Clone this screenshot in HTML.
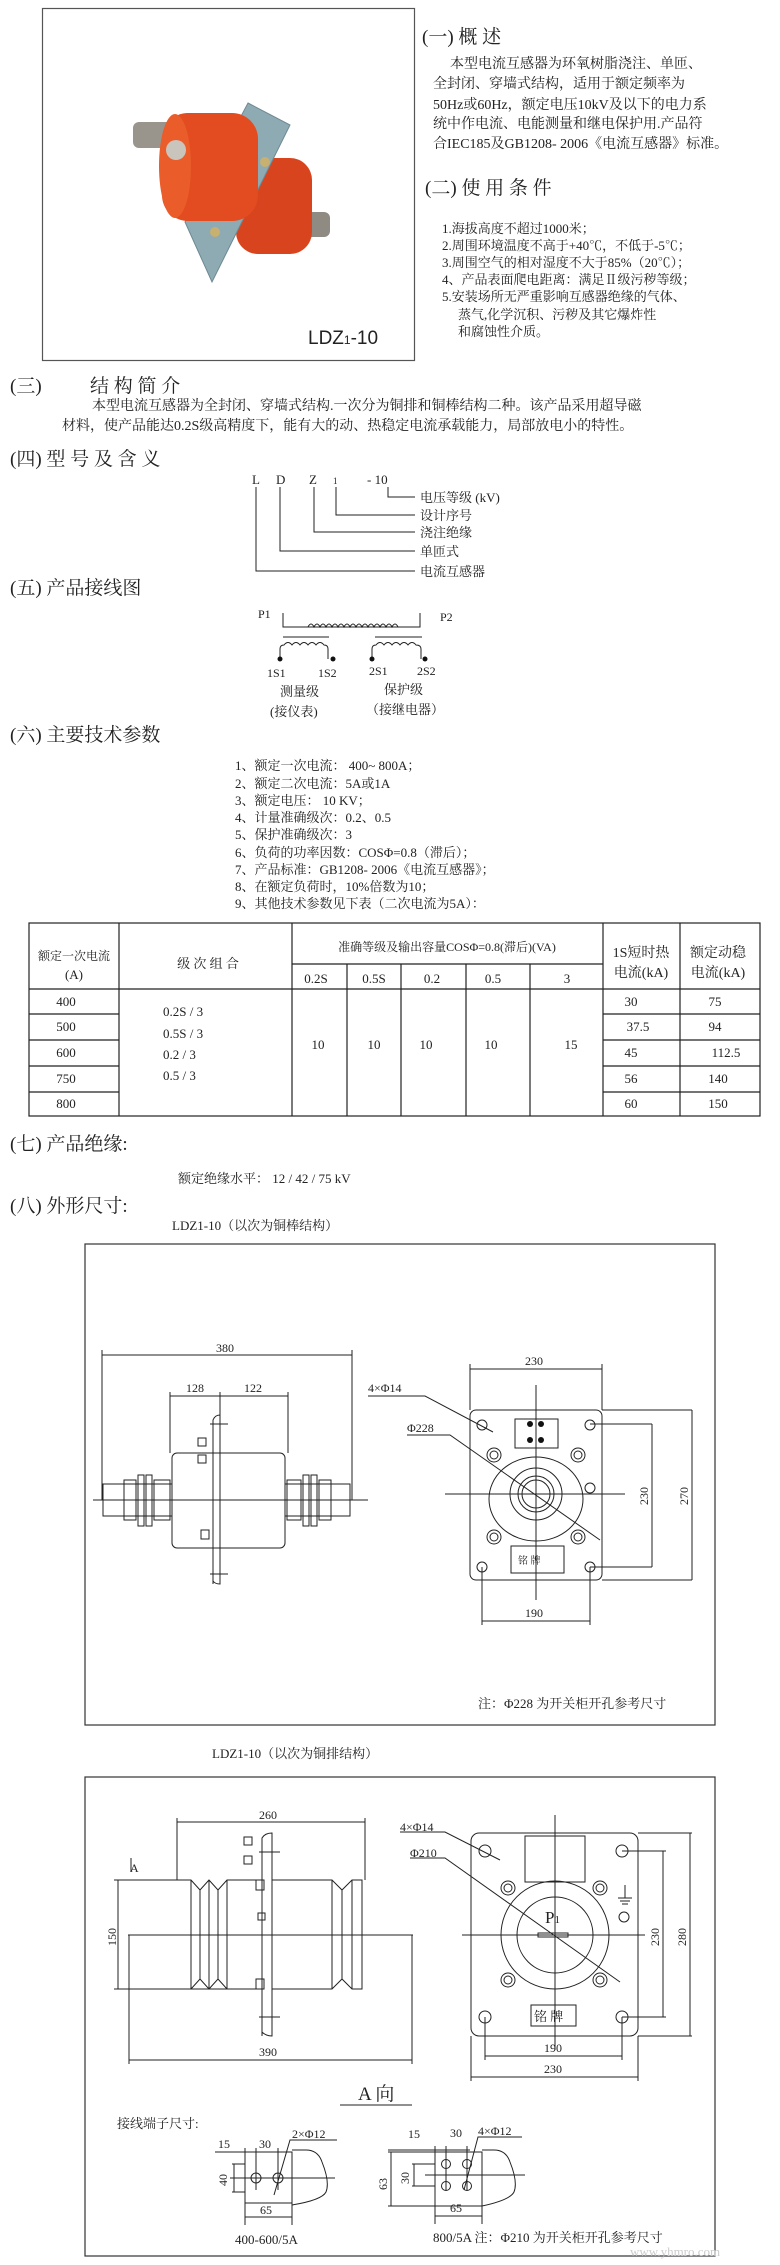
<!DOCTYPE html>
<html><head><meta charset="utf-8"><style>
html,body{margin:0;padding:0;background:#fff}
svg{display:block}
text{font-family:"Liberation Serif","Noto Serif CJK SC","Noto Sans CJK SC",serif;fill:#222}
.h{font-size:19px}
.b{font-size:14px}
.s{font-size:13px}
.tb{font-size:13px}
.d{font-size:12px;font-family:"Liberation Sans","Noto Sans CJK SC",sans-serif}
</style></head><body>
<svg width="780" height="2265" viewBox="0 0 780 2265" xmlns="http://www.w3.org/2000/svg">
<!-- photo box -->
<rect x="42.5" y="8.5" width="372" height="352" fill="#fff" stroke="#555" stroke-width="1.2"/>
<g>
<rect x="300" y="212" width="30" height="25" rx="6" fill="#8f8a82"/>
<rect x="236" y="158" width="76" height="96" rx="22" fill="#d8441e"/>
<polygon points="248,103 290,125 212,282 185,222" fill="#8eaab3" stroke="#6d8a93"/>
<rect x="133" y="122" width="45" height="26" rx="6" fill="#9a958c"/>
<rect x="162" y="113" width="96" height="108" rx="26" fill="#e24c20"/>
<ellipse cx="175" cy="166" rx="16" ry="52" fill="#ea5c2a"/>
<circle cx="176" cy="150" r="10" fill="#c9c4bc"/>
<circle cx="265" cy="162" r="5" fill="#c8b070"/>
<circle cx="215" cy="232" r="5" fill="#c8b070"/>
</g>
<text x="308" y="344" font-size="19" style="font-family:'Liberation Sans Narrow','Liberation Sans',sans-serif">LDZ<tspan font-size="12">1</tspan>-10</text>

<!-- (一) -->
<text x="422" y="43" class="h">(一)  概      述</text>
<text x="450" y="68" class="b">本型电流互感器为环氧树脂浇注、单匝、</text>
<text x="433" y="88" class="b">全封闭、穿墙式结构，适用于额定频率为</text>
<text x="433" y="109" class="b">50Hz或60Hz，额定电压10kV及以下的电力系</text>
<text x="433" y="128" class="b">统中作电流、电能测量和继电保护用.产品符</text>
<text x="433" y="148" class="b">合IEC185及GB1208- 2006《电流互感器》标准。</text>
<text x="425" y="194" class="h">(二)  使 用 条 件</text>
<text x="442" y="233" class="s">1.海拔高度不超过1000米；</text>
<text x="442" y="250" class="s">2.周围环境温度不高于+40℃，不低于-5℃；</text>
<text x="442" y="267" class="s">3.周围空气的相对湿度不大于85%（20℃）；</text>
<text x="442" y="284" class="s">4、产品表面爬电距离：满足Ⅱ级污秽等级；</text>
<text x="442" y="301" class="s">5.安装场所无严重影响互感器绝缘的气体、</text>
<text x="458" y="319" class="s">蒸气,化学沉积、污秽及其它爆炸性</text>
<text x="458" y="336" class="s">和腐蚀性介质。</text>

<!-- (三) -->
<text x="10" y="392" class="h">(三)</text>
<text x="90" y="392" class="h">结 构 简 介</text>
<text x="92" y="410" class="b">本型电流互感器为全封闭、穿墙式结构.一次分为铜排和铜棒结构二种。该产品采用超导磁</text>
<text x="62" y="430" class="b">材料，使产品能达0.2S级高精度下，能有大的动、热稳定电流承载能力，局部放电小的特性。</text>

<!-- (四) -->
<text x="10" y="465" class="h">(四)  型 号 及 含 义</text>
<g font-size="13"><text x="252" y="484">L</text><text x="276" y="484">D</text><text x="309" y="484">Z</text><text x="333" y="484" font-size="9">1</text><text x="367" y="484">- 10</text></g>
<g fill="none" stroke="#222" stroke-width="1">
<polyline points="256,487 256,571 415,571"/>
<polyline points="280,487 280,551 415,551"/>
<polyline points="314,487 314,532 415,532"/>
<polyline points="336,487 336,515 415,515"/>
<polyline points="388,487 388,497 415,497"/>
</g>
<text x="420" y="502" class="s">电压等级 (kV)</text><text x="420" y="520" class="s">设计序号</text><text x="420" y="537" class="s">浇注绝缘</text><text x="420" y="556" class="s">单匝式</text><text x="420" y="576" class="s">电流互感器</text>

<!-- (五) -->
<text x="10" y="594" class="h">(五)  产品接线图</text>
<text x="258" y="618" font-size="12">P1</text><text x="440" y="621" font-size="12">P2</text>
<g fill="none" stroke="#222" stroke-width="1">
<polyline points="283,613 283,627 420,627 420,613"/>
<path d="M308 627 q3 -6 6 0 q3 -6 6 0 q3 -6 6 0 q3 -6 6 0 q3 -6 6 0 q3 -6 6 0 q3 -6 6 0 q3 -6 6 0 q3 -6 6 0 q3 -6 6 0 q3 -6 6 0 q3 -6 6 0 q3 -6 6 0 q3 -6 6 0 q3 -6 6 0"/>
<line x1="283" y1="637" x2="329" y2="637"/><line x1="375" y1="637" x2="422" y2="637"/>
<path d="M280 659 v-10 q0 -4 4 -4 q4 -5 8 0 q4 -5 8 0 q4 -5 8 0 q4 -5 8 0 q4 -5 8 0 q4 0 4 4 v10"/>
<path d="M372 659 v-10 q0 -4 4 -4 q4 -5 8 0 q4 -5 8 0 q4 -5 8 0 q4 -5 8 0 q4 -5 8 0 q5 0 5 4 v10"/>
</g>
<g fill="#111"><circle cx="280" cy="659" r="2.5"/><circle cx="333" cy="659" r="2.5"/><circle cx="372" cy="659" r="2.5"/><circle cx="425" cy="659" r="2.5"/></g>
<g font-size="12"><text x="267" y="677">1S1</text><text x="318" y="677">1S2</text><text x="369" y="675">2S1</text><text x="417" y="675">2S2</text></g>
<text x="280" y="696" class="s">测量级</text><text x="384" y="694" class="s">保护级</text>
<text x="270" y="716" class="s">(接仪表)</text><text x="366" y="714" class="s">（接继电器）</text>

<!-- (六) -->
<text x="10" y="741" class="h">(六)  主要技术参数</text>
<text x="235" y="770" class="s">1、额定一次电流：  400~ 800A；</text>
<text x="235" y="788" class="s">2、额定二次电流：5A或1A</text>
<text x="235" y="805" class="s">3、额定电压： 10 KV；</text>
<text x="235" y="822" class="s">4、计量准确级次：0.2、0.5</text>
<text x="235" y="839" class="s">5、保护准确级次：3</text>
<text x="235" y="857" class="s">6、负荷的功率因数：COSΦ=0.8（滞后）；</text>
<text x="235" y="874" class="s">7、产品标准：GB1208- 2006《电流互感器》；</text>
<text x="235" y="891" class="s">8、在额定负荷时，10%倍数为10；</text>
<text x="235" y="908" class="s">9、其他技术参数见下表（二次电流为5A）：</text>
<!-- table -->
<g fill="none" stroke="#222" stroke-width="1.2">
<rect x="29" y="923" width="731" height="193"/>
<line x1="29" y1="989" x2="760" y2="989"/>
<line x1="292" y1="964" x2="603" y2="964"/>
<line x1="119" y1="923" x2="119" y2="1116"/><line x1="292" y1="923" x2="292" y2="1116"/>
<line x1="347" y1="964" x2="347" y2="1116"/><line x1="401" y1="964" x2="401" y2="1116"/>
<line x1="466" y1="964" x2="466" y2="1116"/><line x1="530" y1="964" x2="530" y2="1116"/>
<line x1="603" y1="923" x2="603" y2="1116"/><line x1="680" y1="923" x2="680" y2="1116"/>
<line x1="29" y1="1014" x2="119" y2="1014"/><line x1="603" y1="1014" x2="760" y2="1014"/>
<line x1="29" y1="1040" x2="119" y2="1040"/><line x1="603" y1="1040" x2="760" y2="1040"/>
<line x1="29" y1="1066" x2="119" y2="1066"/><line x1="603" y1="1066" x2="760" y2="1066"/>
<line x1="29" y1="1092" x2="119" y2="1092"/><line x1="603" y1="1092" x2="760" y2="1092"/>
</g>
<g class="tb" text-anchor="middle">
<text x="74" y="960" font-size="12">额定一次电流</text><text x="74" y="979">(A)</text>
<text x="208" y="968">级  次  组  合</text>
<text x="447" y="951" font-size="12">准确等级及输出容量COSΦ=0.8(滞后)(VA)</text>
<text x="316" y="983">0.2S</text><text x="374" y="983">0.5S</text><text x="432" y="983">0.2</text><text x="493" y="983">0.5</text><text x="567" y="983">3</text>
<text x="641" y="957" font-size="14">1S短时热</text><text x="641" y="977" font-size="14">电流(kA)</text>
<text x="718" y="957" font-size="14">额定动稳</text><text x="718" y="977" font-size="14">电流(kA)</text>
<text x="66" y="1006">400</text><text x="66" y="1031">500</text><text x="66" y="1057">600</text><text x="66" y="1083">750</text><text x="66" y="1108">800</text>
<text x="318" y="1049">10</text><text x="374" y="1049">10</text><text x="426" y="1049">10</text><text x="491" y="1049">10</text><text x="571" y="1049">15</text>
<text x="631" y="1006">30</text><text x="638" y="1031">37.5</text><text x="631" y="1057">45</text><text x="631" y="1083">56</text><text x="631" y="1108">60</text>
<text x="715" y="1006">75</text><text x="715" y="1031">94</text><text x="726" y="1057">112.5</text><text x="718" y="1083">140</text><text x="718" y="1108">150</text>
</g>
<g class="tb"><text x="163" y="1016">0.2S / 3</text><text x="163" y="1038">0.5S / 3</text><text x="163" y="1059">0.2 / 3</text><text x="163" y="1080">0.5 / 3</text></g>

<!-- (七) -->
<text x="10" y="1150" class="h">(七)  产品绝缘:</text>
<text x="178" y="1183" class="s">额定绝缘水平：   12 / 42 / 75  kV</text>
<!-- (八) -->
<text x="10" y="1212" class="h">(八)  外形尺寸:</text>
<text x="172" y="1230" class="s">LDZ1-10（以次为铜棒结构）</text>

<!-- box 1 -->
<rect x="85" y="1244" width="630" height="481" fill="none" stroke="#333" stroke-width="1.2"/>
<g fill="none" stroke="#222" stroke-width="1">
<line x1="102" y1="1355" x2="352" y2="1355"/><line x1="102" y1="1350" x2="102" y2="1500"/><line x1="352" y1="1350" x2="352" y2="1500"/>
<line x1="170" y1="1396" x2="288" y2="1396"/><line x1="170" y1="1392" x2="170" y2="1453"/><line x1="220" y1="1392" x2="220" y2="1416"/><line x1="288" y1="1392" x2="288" y2="1453"/>
<line x1="93" y1="1500" x2="368" y2="1500"/>
<rect x="172" y="1453" width="113" height="95" rx="5"/>
<path d="M213 1584 V1420 q2 -5 7 -5 V1584 q-5 0 -7 -3"/>
<line x1="210" y1="1424" x2="228" y2="1424"/><line x1="210" y1="1574" x2="228" y2="1574"/>
<rect x="198" y="1438" width="8" height="8"/><rect x="198" y="1455" width="8" height="8"/><rect x="201" y="1530" width="8" height="9"/>
<rect x="103" y="1484" width="69" height="32"/>
<rect x="124" y="1480" width="12" height="40"/><rect x="138" y="1475" width="6" height="51"/><rect x="146" y="1475" width="6" height="51"/><rect x="154" y="1480" width="16" height="40"/>
<rect x="285" y="1484" width="65" height="32"/>
<rect x="287" y="1480" width="14" height="40"/><rect x="303" y="1475" width="6" height="51"/><rect x="311" y="1475" width="6" height="51"/><rect x="319" y="1480" width="12" height="40"/>
<line x1="470" y1="1369" x2="602" y2="1369"/><line x1="470" y1="1364" x2="470" y2="1410"/><line x1="602" y1="1364" x2="602" y2="1410"/>
<rect x="470" y="1410" width="132" height="170" rx="6"/>
<line x1="536" y1="1385" x2="536" y2="1600"/><line x1="445" y1="1494" x2="625" y2="1494"/>
<ellipse cx="536" cy="1499" rx="47" ry="42"/><circle cx="536" cy="1494" r="26"/><circle cx="536" cy="1494" r="18"/><circle cx="536" cy="1494" r="14"/>
<circle cx="482" cy="1425" r="5"/><circle cx="590" cy="1425" r="5"/><circle cx="482" cy="1567" r="5"/><circle cx="590" cy="1567" r="5"/>
<circle cx="494" cy="1455" r="7"/><circle cx="578" cy="1455" r="7"/><circle cx="494" cy="1537" r="7"/><circle cx="578" cy="1537" r="7"/>
<circle cx="494" cy="1455" r="4"/><circle cx="578" cy="1455" r="4"/><circle cx="494" cy="1537" r="4"/><circle cx="578" cy="1537" r="4"/>
<circle cx="590" cy="1488" r="5"/>
<rect x="515" y="1419" width="43" height="29"/>
<rect x="511" y="1546" width="53" height="27"/>
<line x1="602" y1="1410" x2="692" y2="1410"/><line x1="602" y1="1580" x2="692" y2="1580"/><line x1="692" y1="1410" x2="692" y2="1580"/>
<line x1="590" y1="1424" x2="652" y2="1424"/><line x1="590" y1="1567" x2="652" y2="1567"/><line x1="652" y1="1424" x2="652" y2="1567"/>
<line x1="482" y1="1567" x2="482" y2="1625"/><line x1="590" y1="1567" x2="590" y2="1625"/><line x1="482" y1="1621" x2="590" y2="1621"/>
<polyline points="368,1396 425,1396 493,1432"/>
<polyline points="407,1435 450,1435 600,1540"/>
</g>
<g fill="#111"><circle cx="530" cy="1424" r="3"/><circle cx="541" cy="1424" r="3"/><circle cx="530" cy="1440" r="3"/><circle cx="541" cy="1440" r="3"/></g>
<g class="d">
<text x="216" y="1352">380</text><text x="186" y="1392">128</text><text x="244" y="1392">122</text>
<text x="525" y="1365">230</text><text x="368" y="1392">4×Φ14</text><text x="407" y="1432">Φ228</text>
<text x="525" y="1617">190</text>
<text transform="translate(648 1505) rotate(-90)">230</text><text transform="translate(688 1505) rotate(-90)">270</text>
</g>
<text x="518" y="1564" font-size="10">铭   牌</text>
<text x="478" y="1708" class="s">注：Φ228 为开关柜开孔参考尺寸</text>

<!-- box 2 -->
<text x="212" y="1758" class="s">LDZ1-10（以次为铜排结构）</text>
<rect x="85" y="1777" width="630" height="479" fill="none" stroke="#333" stroke-width="1.2"/>
<g fill="none" stroke="#222" stroke-width="1">
<line x1="177" y1="1822" x2="365" y2="1822"/><line x1="177" y1="1818" x2="177" y2="1880"/><line x1="365" y1="1818" x2="365" y2="1880"/>
<line x1="131" y1="1858" x2="131" y2="1872"/>
<line x1="114" y1="1880" x2="180" y2="1880"/><line x1="114" y1="1989" x2="180" y2="1989"/><line x1="118" y1="1880" x2="118" y2="1989"/>
<path d="M180 1880 H191 l9 10 l9 -10 l9 10 l9 -10 H262 M272 1880 H332 l10 10 l10 -10 H362 V1989 H352 l-10 -10 l-10 10 H272 M262 1989 H227 l-9 -10 l-9 10 l-9 -10 l-9 10 H180 Z"/>
<line x1="191" y1="1880" x2="191" y2="1989"/><line x1="200" y1="1890" x2="200" y2="1979"/><line x1="209" y1="1880" x2="209" y2="1989"/><line x1="218" y1="1890" x2="218" y2="1979"/><line x1="227" y1="1880" x2="227" y2="1989"/>
<line x1="342" y1="1890" x2="342" y2="1979"/><line x1="332" y1="1880" x2="332" y2="1989"/><line x1="352" y1="1880" x2="352" y2="1989"/>
<path d="M262 2036 V1838 q3 -5 10 -5 V2036 q-6 0 -10 -4"/>
<line x1="259" y1="1852" x2="280" y2="1852"/><line x1="259" y1="2017" x2="280" y2="2017"/>
<rect x="244" y="1837" width="8" height="8"/><rect x="244" y="1856" width="8" height="8"/><rect x="256" y="1880" width="8" height="10"/><rect x="258" y="1913" width="7" height="7"/><rect x="256" y="1979" width="8" height="10"/>
<line x1="128" y1="1935" x2="413" y2="1935"/>
<line x1="129" y1="1935" x2="129" y2="2064"/><line x1="412" y1="1935" x2="412" y2="2064"/><line x1="129" y1="2060" x2="412" y2="2060"/>
<rect x="471" y="1833" width="167" height="203" rx="8"/>
<line x1="555" y1="1815" x2="555" y2="2050"/><line x1="462" y1="1935" x2="645" y2="1935"/>
<circle cx="555" cy="1935" r="54"/><circle cx="555" cy="1935" r="38"/>
<rect x="538" y="1933" width="30" height="4"/>
<circle cx="485" cy="1851" r="6"/><circle cx="622" cy="1851" r="6"/><circle cx="485" cy="2017" r="6"/><circle cx="622" cy="2017" r="6"/>
<circle cx="508" cy="1888" r="7"/><circle cx="600" cy="1888" r="7"/><circle cx="508" cy="1980" r="7"/><circle cx="600" cy="1980" r="7"/>
<circle cx="508" cy="1888" r="4"/><circle cx="600" cy="1888" r="4"/><circle cx="508" cy="1980" r="4"/><circle cx="600" cy="1980" r="4"/>
<rect x="525" y="1836" width="60" height="46"/>
<rect x="531" y="2005" width="45" height="21"/>
<line x1="625" y1="1885" x2="625" y2="1898"/><line x1="618" y1="1898" x2="632" y2="1898"/><line x1="620" y1="1901" x2="630" y2="1901"/><line x1="622" y1="1904" x2="628" y2="1904"/>
<circle cx="624" cy="1917" r="5"/>
<line x1="622" y1="1851" x2="666" y2="1851"/><line x1="622" y1="2017" x2="666" y2="2017"/><line x1="663" y1="1851" x2="663" y2="2017"/>
<line x1="638" y1="1833" x2="692" y2="1833"/><line x1="638" y1="2036" x2="692" y2="2036"/><line x1="690" y1="1833" x2="690" y2="2036"/>
<line x1="485" y1="2017" x2="485" y2="2060"/><line x1="622" y1="2017" x2="622" y2="2060"/><line x1="485" y1="2056" x2="622" y2="2056"/>
<line x1="471" y1="2036" x2="471" y2="2081"/><line x1="638" y1="2036" x2="638" y2="2081"/><line x1="471" y1="2077" x2="638" y2="2077"/>
<polyline points="400,1832 445,1832 500,1860"/>
<polyline points="410,1858 445,1858 620,1982"/>
<line x1="340" y1="2105" x2="412" y2="2105"/>
<line x1="215" y1="2152" x2="278" y2="2152"/><line x1="245" y1="2148" x2="245" y2="2225"/><line x1="256" y1="2148" x2="256" y2="2190"/><line x1="278" y1="2148" x2="278" y2="2190"/>
<rect x="245" y="2152" width="47" height="51"/>
<line x1="232" y1="2164" x2="245" y2="2164"/><line x1="232" y1="2192" x2="245" y2="2192"/><line x1="234" y1="2164" x2="234" y2="2192"/>
<line x1="230" y1="2178" x2="335" y2="2178"/>
<circle cx="256" cy="2178" r="5"/><circle cx="278" cy="2178" r="5"/>
<path d="M292 2150 h14 q12 0 16 12 q8 20 4 30 q-4 8 -34 13"/>
<line x1="292" y1="2203" x2="292" y2="2225"/><line x1="245" y1="2217" x2="292" y2="2217"/>
<polyline points="337,2140 290,2140 274,2195"/>
<line x1="388" y1="2150" x2="470" y2="2150"/><line x1="435" y1="2146" x2="435" y2="2224"/><line x1="446" y1="2146" x2="446" y2="2190"/><line x1="467" y1="2146" x2="467" y2="2190"/>
<rect x="435" y="2152" width="47" height="54"/>
<line x1="388" y1="2152" x2="435" y2="2152"/><line x1="388" y1="2206" x2="435" y2="2206"/><line x1="391" y1="2152" x2="391" y2="2206"/>
<line x1="412" y1="2164" x2="435" y2="2164"/><line x1="412" y1="2186" x2="435" y2="2186"/><line x1="414" y1="2164" x2="414" y2="2186"/>
<line x1="425" y1="2175" x2="525" y2="2175"/>
<circle cx="446" cy="2164" r="4.5"/><circle cx="467" cy="2164" r="4.5"/><circle cx="446" cy="2186" r="4.5"/><circle cx="467" cy="2186" r="4.5"/>
<path d="M482 2150 h12 q12 0 16 12 q8 20 4 30 q-4 8 -32 14"/>
<line x1="482" y1="2206" x2="482" y2="2224"/><line x1="435" y1="2216" x2="482" y2="2216"/>
<polyline points="522,2137 478,2137 464,2190"/>
</g>
<g class="d">
<text x="259" y="1819">260</text><text x="130" y="1872">A</text>
<text transform="translate(116 1946) rotate(-90)">150</text>
<text x="259" y="2056">390</text>
<text x="400" y="1831">4×Φ14</text><text x="410" y="1857">Φ210</text>
<text x="544" y="2052">190</text><text x="544" y="2073">230</text>
<text transform="translate(659 1946) rotate(-90)">230</text><text transform="translate(686 1946) rotate(-90)">280</text>
<text x="218" y="2148">15</text><text x="259" y="2148">30</text><text x="292" y="2138">2×Φ12</text>
<text transform="translate(227 2186) rotate(-90)">40</text><text x="260" y="2214">65</text>
<text x="408" y="2138">15</text><text x="450" y="2137">30</text><text x="478" y="2135">4×Φ12</text>
<text transform="translate(387 2190) rotate(-90)">63</text><text transform="translate(409 2184) rotate(-90)">30</text><text x="450" y="2212">65</text>
</g>
<text x="545" y="1923" font-size="17">P<tspan font-size="11">1</tspan></text>
<text x="534" y="2021" font-size="13">铭 牌</text>
<text x="358" y="2100" font-size="19">A 向</text>
<text x="117" y="2128" class="s">接线端子尺寸:</text>
<text x="235" y="2244" class="s">400-600/5A</text>
<text x="433" y="2242" class="s">800/5A 注：Φ210 为开关柜开孔参考尺寸</text>
<text x="630" y="2256" font-size="13" style="fill:#ccc">www.yhmro.com</text>
</svg>
</body></html>
